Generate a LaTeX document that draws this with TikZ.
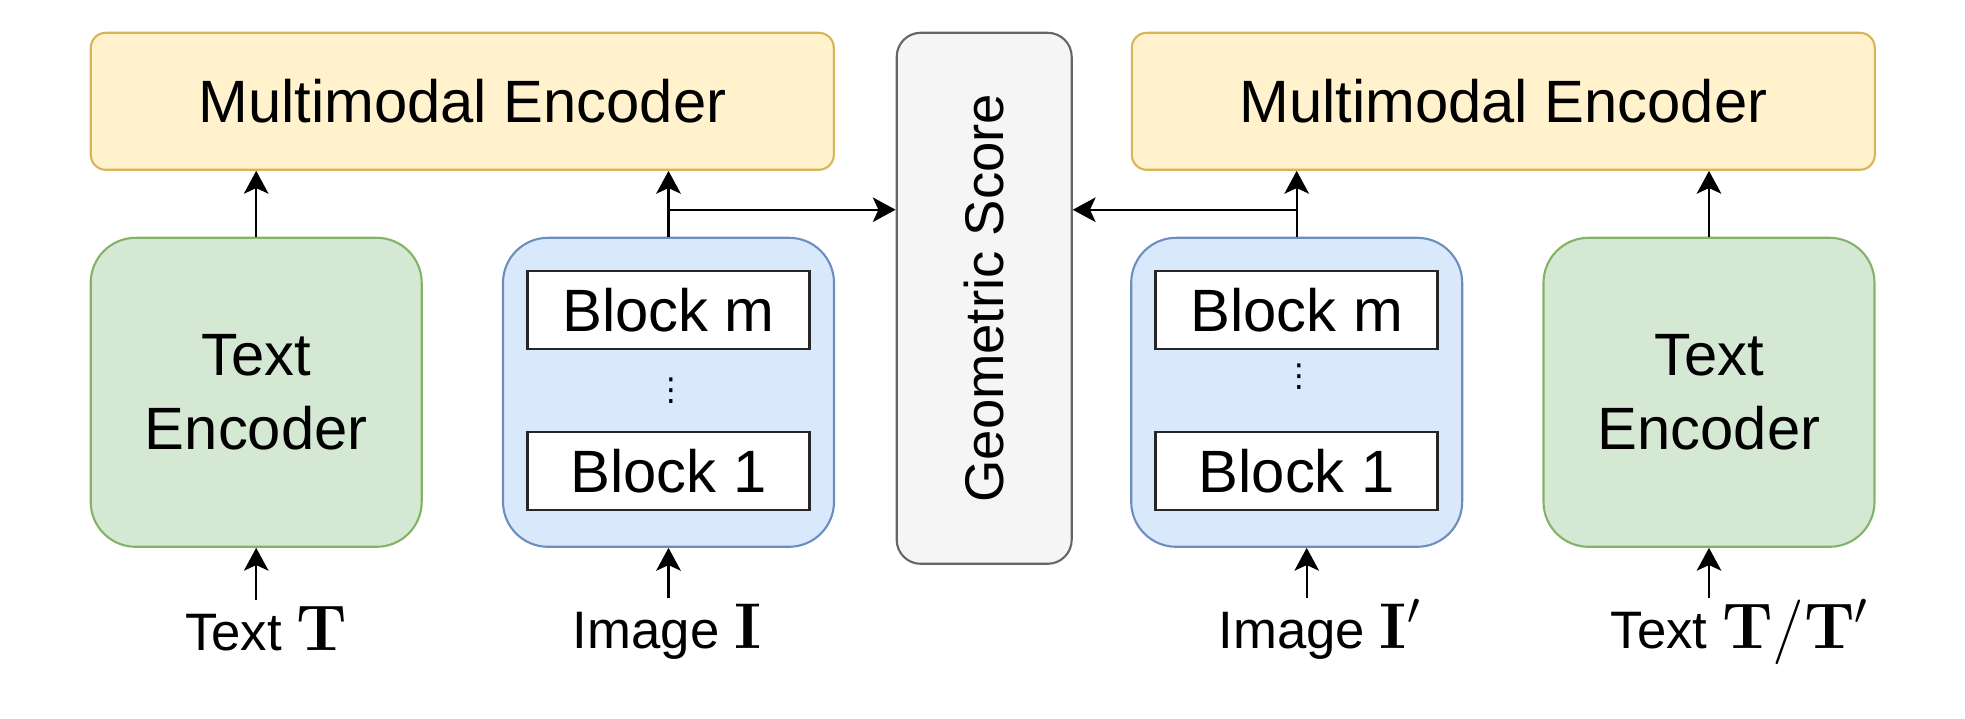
\RequirePackage{fix-cm}
\documentclass[tikz,border=0pt]{standalone}
\usepackage[no-math]{fontspec}
\setmainfont{Liberation Sans}
\newfontfamily\lmbold{Latin Modern Roman}
\newfontfamily\dvsans{DejaVu Sans}
\usetikzlibrary{arrows.meta, positioning, calc}
\definecolor{YF}{HTML}{FFF2CC}
\definecolor{YD}{HTML}{D6B656}
\definecolor{GF}{HTML}{D5E8D4}
\definecolor{GD}{HTML}{82B366}
\definecolor{BF}{HTML}{DAE8FC}
\definecolor{BD}{HTML}{6C8EBF}
\definecolor{SF}{HTML}{F5F5F5}
\definecolor{SD}{HTML}{666666}
\newcommand{\bsym}[1]{{\fontsize{18.4pt}{20pt}\selectfont\lmbold\bfseries #1}}
\newcommand{\psym}{{\fontsize{18.4pt}{20pt}\selectfont$'$}}
\newcommand{\slsym}{{\fontsize{18.4pt}{20pt}\selectfont$/$}}

\begin{document}
\begin{tikzpicture}[
  enc/.style={draw=YD, fill=YF, rounded corners=0.15cm, line width=0.6pt,
              minimum width=7.43cm, minimum height=1.37cm,
              font=\fontsize{17pt}{20pt}\selectfont},
  txtenc/.style={draw=GD, fill=GF, rounded corners=0.45cm, line width=0.6pt,
                 minimum width=3.31cm, minimum height=3.09cm, align=center,
                 font=\fontsize{17pt}{21.3pt}\selectfont},
  vis/.style={draw=BD, fill=BF, rounded corners=0.45cm, line width=0.6pt,
              minimum width=3.31cm, minimum height=3.09cm},
  blk/.style={draw=black!85, fill=white, line width=0.7pt,
              minimum width=2.82cm, minimum height=0.78cm,
              font=\fontsize{17pt}{20pt}\selectfont},
  score/.style={draw=SD, fill=SF, rounded corners=0.24cm, line width=0.6pt,
                minimum width=5.31cm, minimum height=1.75cm, rotate=90,
                font=\fontsize{15.5pt}{18pt}\selectfont},
  dots/.style={inner sep=0pt, font=\fontsize{9pt}{10pt}\dvsans},
  lbl/.style={anchor=base, text height=0.44cm, inner sep=0.05cm,
              font=\fontsize{15pt}{18pt}\selectfont},
  arr/.style={-{Stealth[length=6.5pt,width=7pt,inset=1.6pt]}, line width=0.6pt}
]
\useasboundingbox (0,0) rectangle (19.65,-7.19);

% top row
\node[enc]   (mmL) at (4.623,-1.013)  {Multimodal Encoder};
\node[score] (gs)  at (9.842,-2.983)  {Geometric Score};
\node[enc]   (mmR) at (15.033,-1.013) {Multimodal Encoder};

% encoders
\node[txtenc] (tencL) at (2.562,-3.923)  {Text\\Encoder};
\node[vis]    (imgL)  at (6.685,-3.923)  {};
\node[vis]    (imgR)  at (12.967,-3.923) {};
\node[txtenc] (tencR) at (17.09,-3.923)  {Text\\Encoder};

\node[blk]  (bmL)   at (6.685,-3.10)  {Block m};
\node[dots] (dotsL) at (6.715,-3.91)  {⋮};
\node[blk]  (b1L)   at (6.685,-4.71)  {Block 1};
\node[blk]  (bmR)   at (12.967,-3.10) {Block m};
\node[dots] (dotsR) at (12.997,-3.77) {⋮};
\node[blk]  (b1R)   at (12.967,-4.71) {Block 1};

% inputs
\node[lbl] (labTL) at (2.66,-6.50)  {Text \bsym{T}};
\node[lbl] (labIL) at (6.67,-6.48)  {Image \bsym{I}};
\node[lbl] (labIR) at (13.20,-6.48) {Image \bsym{I}\psym};
\node[lbl] (labTR) at (17.40,-6.48) {Text \bsym{T}\slsym\bsym{T}\psym};

% connectors
\draw[arr] (tencL.north) -- (tencL.north |- mmL.south);
\draw[arr] (imgL.north) -- (imgL.north |- mmL.south);
\draw[arr] (imgR.north) -- (imgR.north |- mmR.south);
\draw[arr] (tencR.north) -- (tencR.north |- mmR.south);

\coordinate (jL) at ([yshift=0.27cm]imgL.north);
\coordinate (jR) at ([yshift=0.27cm]imgR.north);
\draw[arr] (jL) -- (jL -| gs.north);
\draw[arr] (jR) -- (jR -| gs.south);

\coordinate (inIR) at ([xshift=1mm]imgR.south);
\draw[arr] (labTL.north -| tencL.south) -- (tencL.south);
\draw[arr] (labIL.north -| imgL.south) -- (imgL.south);
\draw[arr] (inIR |- labIR.north) -- (inIR);
\draw[arr] (labTR.north -| tencR.south) -- (tencR.south);
\end{tikzpicture}
\end{document}
